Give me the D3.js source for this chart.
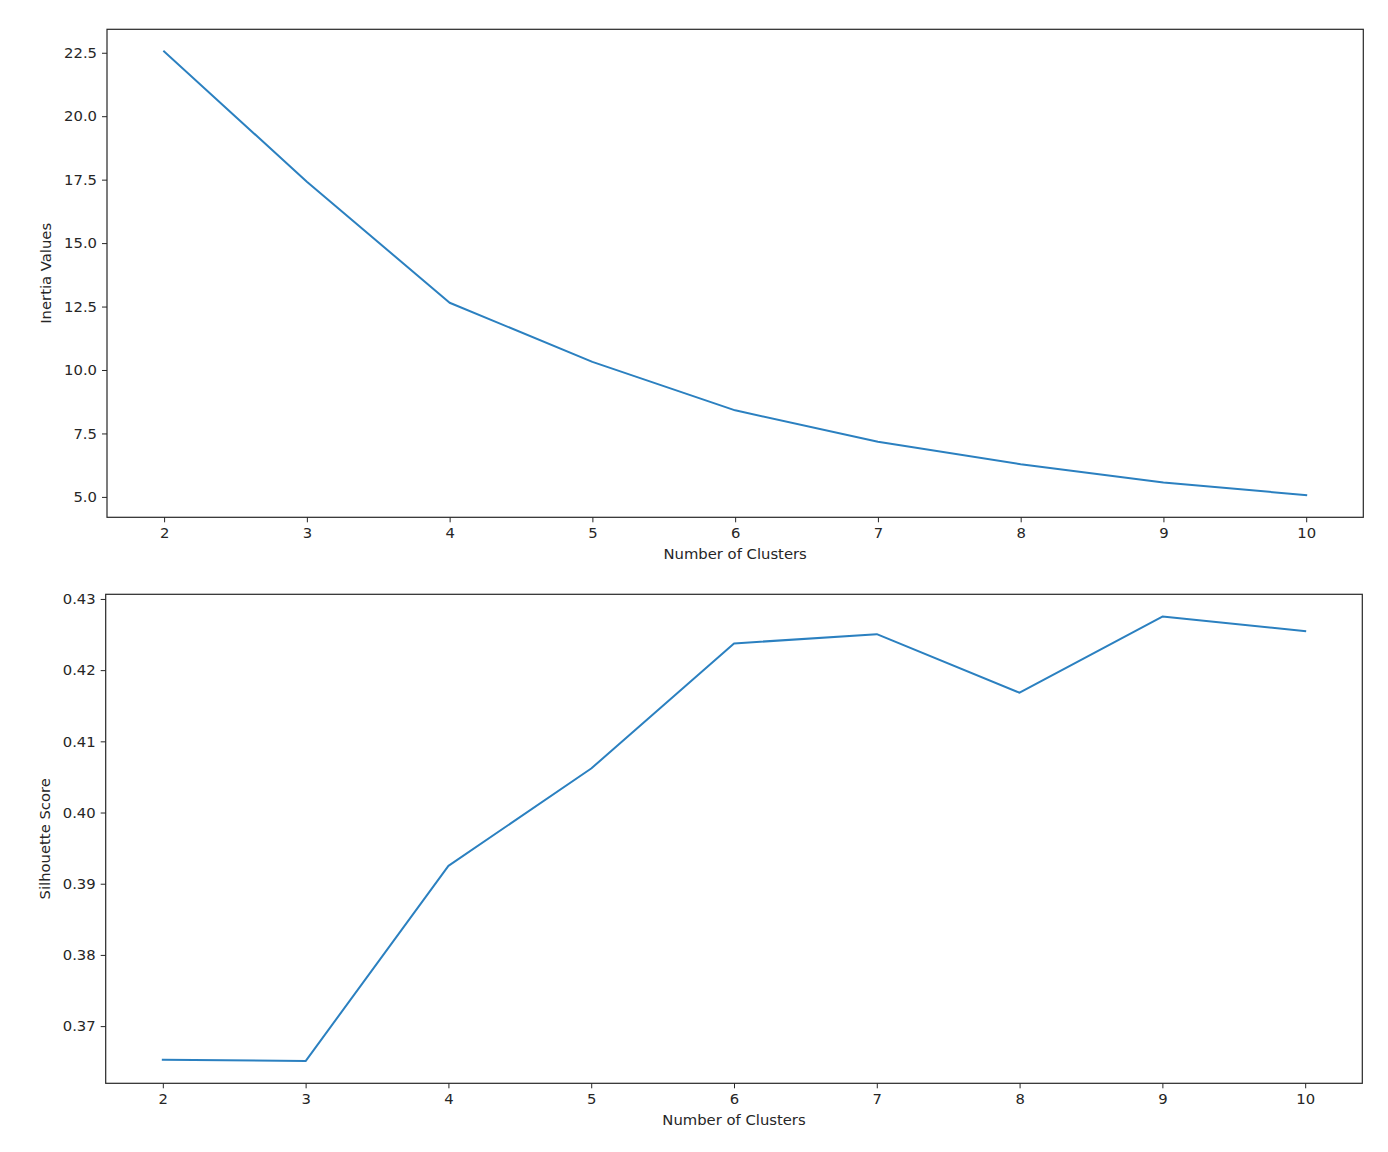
<!DOCTYPE html>
<html>
<head>
<meta charset="utf-8">
<script src="https://cdn.jsdelivr.net/npm/d3@7"></script>
<style>
  body { margin: 0; background: #fff; }
  svg text { font-family: "DejaVu Sans", sans-serif; fill: #262626; }
</style>
</head>
<body>
<div id="chart"></div>
<script>
// cluster counts on the x axis
const clusters = [2, 3, 4, 5, 6, 7, 8, 9, 10];
// elbow curve
const inertia = [22.55, 17.42, 12.65, 10.32, 8.41, 7.17, 6.29, 5.57, 5.07];
// silhouette curve
const silhouette = [0.36528, 0.36509, 0.39251, 0.40618, 0.42375, 0.42505, 0.41683, 0.42753, 0.42548];

const inertiaTicks = [5.0, 7.5, 10.0, 12.5, 15.0, 17.5, 20.0, 22.5];
const silTicks = [0.37, 0.38, 0.39, 0.40, 0.41, 0.42, 0.43];

const width = 1388, height = 1152;
const fontSize = 14.8;
const svg = d3.select('#chart').append('svg')
    .attr('width', width)
    .attr('height', height);

// matplotlib-ish 5% padding around data
function padded(values) {
    const [lo, hi] = d3.extent(values);
    const pad = (hi - lo) * 0.05;
    return [lo - pad, hi + pad];
}

function drawPanel(box, ys, yTicks, yFmt, yLabel) {
    const g = svg.append('g');

    const x = d3.scaleLinear()
        .domain(padded(clusters))
        .range([box.left, box.right]);
    const y = d3.scaleLinear()
        .domain(padded(ys))
        .range([box.bottom, box.top]);

    const xAxis = g.append('g')
        .attr('transform', `translate(0, ${box.bottom})`)
        .call(d3.axisBottom(x).tickValues(clusters).tickFormat(d3.format('d')).tickSize(5).tickPadding(5));
    const yAxis = g.append('g')
        .attr('transform', `translate(${box.left}, 0)`)
        .call(d3.axisLeft(y).tickValues(yTicks).tickFormat(yFmt).tickSize(5).tickPadding(5));

    [xAxis, yAxis].forEach(ax => {
        ax.select('.domain').remove();
        ax.selectAll('line').attr('stroke', '#262626').attr('stroke-width', 1);
        ax.selectAll('text').attr('font-size', fontSize).attr('font-family', '"DejaVu Sans", sans-serif').attr('fill', '#262626');
    });

    // line
    const line = d3.line()
        .x((d, i) => x(clusters[i]))
        .y(d => y(d));
    g.append('path')
        .datum(ys)
        .attr('fill', 'none')
        .attr('stroke', '#2b80c0')
        .attr('stroke-width', 2)
        .attr('stroke-linejoin', 'round')
        .attr('stroke-linecap', 'square')
        .attr('d', line);

    // frame
    g.append('rect')
        .attr('x', box.left)
        .attr('y', box.top)
        .attr('width', box.right - box.left)
        .attr('height', box.bottom - box.top)
        .attr('fill', 'none')
        .attr('stroke', '#262626')
        .attr('stroke-width', 1.2);

    g.append('text')
        .attr('x', (box.left + box.right) / 2)
        .attr('y', box.bottom + 42)
        .attr('text-anchor', 'middle')
        .attr('font-size', fontSize)
        .text('Number of Clusters');

    g.append('text')
        .attr('transform', `translate(${box.left - 56}, ${(box.top + box.bottom) / 2}) rotate(-90)`)
        .attr('text-anchor', 'middle')
        .attr('font-size', fontSize)
        .text(yLabel);
}

drawPanel({ left: 107, right: 1363.3, top: 29.3, bottom: 517.3 },
    inertia, inertiaTicks, d3.format('.1f'), 'Inertia Values');
drawPanel({ left: 105.7, right: 1362.3, top: 594.3, bottom: 1083.3 },
    silhouette, silTicks, d3.format('.2f'), 'Silhouette Score');
</script>
</body>
</html>
